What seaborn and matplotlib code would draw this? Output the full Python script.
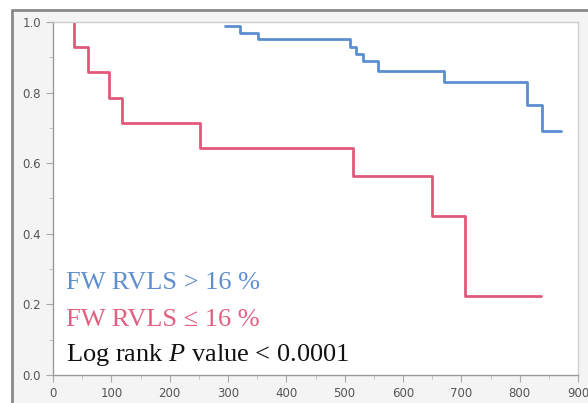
import numpy as np
import pandas as pd
import seaborn as sns
import matplotlib.pyplot as plt
from matplotlib.lines import Line2D
from matplotlib.patches import Rectangle
from matplotlib.ticker import MultipleLocator

# Kaplan-Meier estimates (days, survival probability after each event)
high_event_days = [295, 321, 352, 509, 520, 532, 557, 671, 813, 839]
high_survival = [0.99, 0.97, 0.952, 0.93, 0.91, 0.89, 0.86, 0.83, 0.765, 0.69]
high_last_day = 871

low_event_days = [36, 60, 96, 118, 252, 515, 650, 707]
low_survival = [0.929, 0.857, 0.786, 0.714, 0.643, 0.5625, 0.45, 0.225]
low_last_day = 837

x_ticks = [0, 100, 200, 300, 400, 500, 600, 700, 800, 900]
y_ticks = [0.0, 0.2, 0.4, 0.6, 0.8, 1.0]

label_high = "FW RVLS > 16 %"
label_low = "FW RVLS \u2264 16 %"
label_p = "Log rank $\\mathit{P}$ value < 0.0001"

blue = "#5b8ed0"
red = "#e2587a"


def step_frame(days, surv, last_day, group, start_at_one):
    xs, ys = [], []
    if start_at_one:
        xs.append(days[0])
        ys.append(1.0)
    xs += list(days) + [last_day]
    ys += list(surv) + [surv[-1]]
    return pd.DataFrame({"day": xs, "surv": ys, "group": group})


df_high = step_frame(high_event_days, high_survival, high_last_day, "high", False)
df_low = step_frame(low_event_days, low_survival, low_last_day, "low", True)

sns.set_style("white")
plt.rcParams["mathtext.fontset"] = "custom"
plt.rcParams["mathtext.rm"] = "Liberation Serif"
plt.rcParams["mathtext.it"] = "Liberation Serif:italic"

fig = plt.figure(figsize=(5.88, 4.03), dpi=100)
fig.patch.set_facecolor("white")

# outer panel frame
W, H = 588.0, 403.0
fig.patches.append(Rectangle((12 / W, 0), 1 - 12 / W, 1 - 10 / H, transform=fig.transFigure,
                             facecolor="#f4f4f4", edgecolor="none", zorder=-10))
fig.lines.append(Line2D([12 / W, 12 / W], [0, 1 - 10 / H], transform=fig.transFigure,
                        color="#8a8a8a", lw=2))
fig.lines.append(Line2D([12 / W, 1], [1 - 10 / H, 1 - 10 / H], transform=fig.transFigure,
                        color="#8a8a8a", lw=2))

ax = fig.add_axes([53 / W, 1 - 375 / H, (578 - 53) / W, (375 - 22) / H])
ax.set_facecolor("white")

sns.lineplot(data=df_high, x="day", y="surv", ax=ax, color=blue, lw=2,
             drawstyle="steps-post", estimator=None, sort=False)
sns.lineplot(data=df_low, x="day", y="surv", ax=ax, color=red, lw=2,
             drawstyle="steps-post", estimator=None, sort=False)

ax.set_xlim(0, 900)
ax.set_ylim(0, 1.0)
ax.set_xticks(x_ticks)
ax.set_yticks(y_ticks)
ax.set_yticklabels([f"{v:.1f}" for v in y_ticks])
ax.xaxis.set_minor_locator(MultipleLocator(50))
ax.yaxis.set_minor_locator(MultipleLocator(0.1))
ax.tick_params(axis="both", which="major", direction="out", length=5, width=0.8,
               color="#aaaaaa", labelsize=8.5, labelcolor="#555555",
               bottom=True, left=True)
ax.tick_params(axis="both", which="minor", direction="out", length=3, width=0.6,
               color="#bbbbbb", bottom=True, left=True)
ax.set_xlabel("")
ax.set_ylabel("")

for side in ["left", "bottom"]:
    ax.spines[side].set_color("#9a9a9a")
    ax.spines[side].set_linewidth(1.0)
for side in ["top", "right"]:
    ax.spines[side].set_color("#cfcfcf")
    ax.spines[side].set_linewidth(1.0)

serif = ["Liberation Serif", "DejaVu Serif"]
ax.text(22, 0.26, label_high, color="#5f8fd0", fontsize=19, family=serif, va="center")
ax.text(22, 0.155, label_low, color="#e0607f", fontsize=19, family=serif, va="center")
ax.text(22, 0.058, label_p, color="#111111", fontsize=19, family=serif, va="center")

fig.savefig("out.png", dpi=100)
